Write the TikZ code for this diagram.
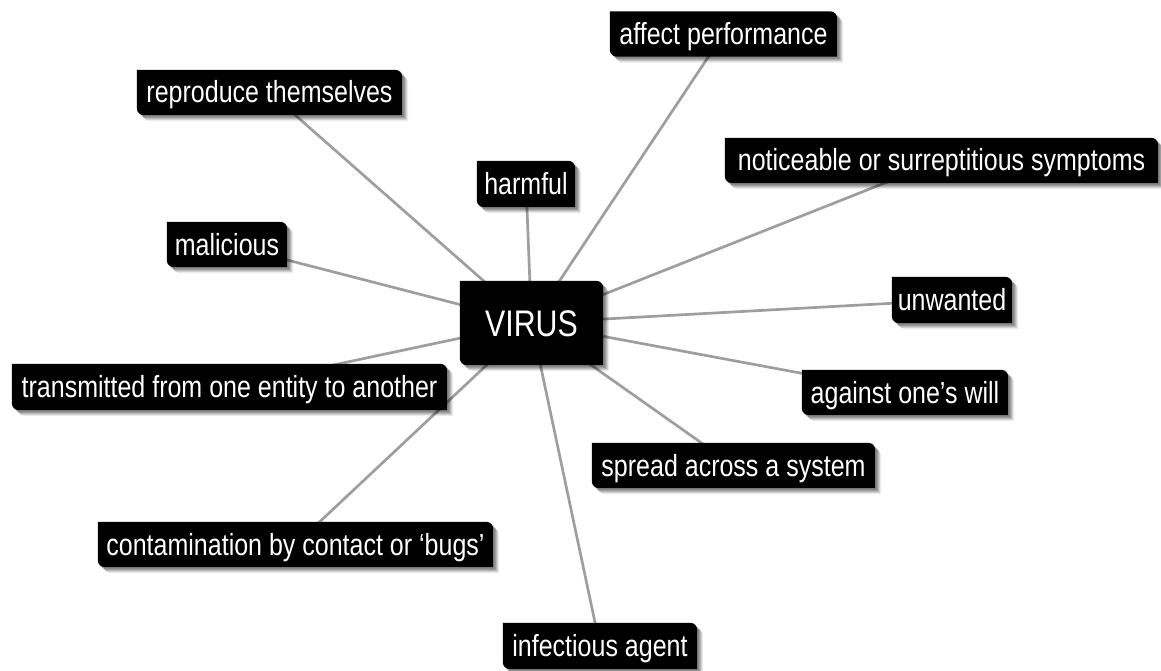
\documentclass[tikz,border=0pt]{standalone}
\usepackage{fontspec}
\setmainfont{Liberation Sans}[FakeStretch=0.82]

\pgfdeclarelayer{links}
\pgfdeclarelayer{tags}
\pgfsetlayers{links,tags,main}

\definecolor{linkgray}{RGB}{158,158,158}

\tikzset{
  tag/.style={inner sep=0pt, text=white,
    font=\fontsize{30.5}{34}\selectfont,
    text height=21pt, text depth=0pt, minimum height=45pt},
  hub/.style={tag, font=\fontsize{37}{42}\selectfont, text height=26pt},
  link/.style={draw=linkgray, line width=2.7pt},
}

% tag outline: top-right and bottom-left corners rounded
\newcommand\crad{7pt}
\newcommand\tagfill[4]{%
  \fill[#4] ([shift={(#2,#3)}]#1.north west)
    -- ([shift={(#2-\crad,#3)}]#1.north east)
    arc[start angle=90, end angle=0, radius=\crad]
    -- ([shift={(#2,#3)}]#1.south east)
    -- ([shift={(#2+\crad,#3)}]#1.south west)
    arc[start angle=270, end angle=180, radius=\crad]
    -- cycle;}
\newcommand\tagbox[1]{%
  \tagfill{#1}{2pt}{-2pt}{black, opacity=0.14}%
  \tagfill{#1}{3pt}{-3pt}{black, opacity=0.14}%
  \tagfill{#1}{4pt}{-4pt}{black, opacity=0.13}%
  \tagfill{#1}{5pt}{-5pt}{black, opacity=0.10}%
  \tagfill{#1}{6pt}{-6pt}{black, opacity=0.07}%
  \tagfill{#1}{0pt}{0pt}{black}}

\begin{document}
\begin{tikzpicture}[x=1pt, y=-1pt]
\useasboundingbox (0,0) rectangle (1161,671);

\node[hub, minimum width=143pt, minimum height=84pt] (virus) at (531.5,323) {VIRUS};

\node[tag, minimum width=227pt] (affect)  at (723.5,34)   {affect performance};
\node[tag, minimum width=265pt] (repro)   at (269.5,92.5) {reproduce themselves};
\node[tag, minimum width=98pt, minimum height=46pt] (harm) at (526,184) {harmful};
\node[tag, minimum width=433pt] (notice)  at (941.5,160.5) {noticeable or surreptitious symptoms};
\node[tag, minimum width=120pt] (malic)   at (227,244.5)  {malicious};
\node[tag, minimum width=120pt, minimum height=46pt] (unwant) at (952,300) {unwanted};
\node[tag, minimum width=435pt, minimum height=46pt] (trans)  at (229.5,387) {transmitted from one entity to another};
\node[tag, minimum width=206pt] (will)    at (905,392.5)  {against one’s will};
\node[tag, minimum width=283pt] (spread)  at (733.5,465.5) {spread across a system};
\node[tag, minimum width=395pt] (contam)  at (295.5,544.5) {contamination by contact or ‘bugs’};
\node[tag, minimum width=194pt, minimum height=46pt] (infect) at (600,646) {infectious agent};

\begin{pgfonlayer}{links}
  \foreach \n in {affect,repro,harm,notice,malic,unwant,trans,will,spread,contam,infect}
    \draw[link] (virus.center) -- (\n.center);
\end{pgfonlayer}

\begin{pgfonlayer}{tags}
  \foreach \n in {virus,affect,repro,harm,notice,malic,unwant,trans,will,spread,contam,infect}
    {\tagbox{\n}}
\end{pgfonlayer}
\end{tikzpicture}
\end{document}
